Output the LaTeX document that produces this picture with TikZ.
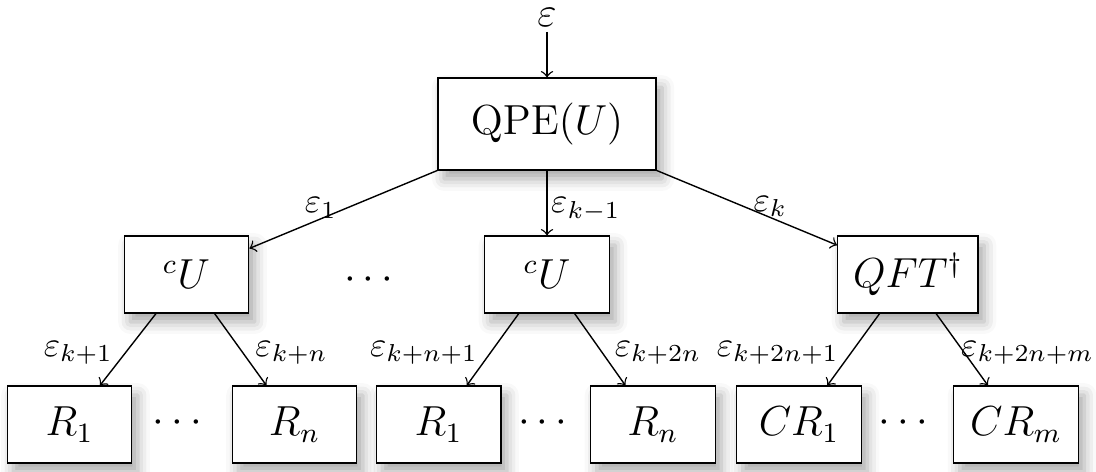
\documentclass[tikz,border=0pt]{standalone}
\usepackage{amsmath,amssymb}
\usetikzlibrary{shadows.blur}

\begin{document}
\begin{tikzpicture}[box/.style={draw, fill=white, font=\large, minimum width=1.25cm, minimum height=0.77cm,
    blur shadow={shadow blur radius=0.8ex, shadow xshift=0.4ex, shadow yshift=-0.6ex, shadow opacity=35}},
  dots/.style={font=\large, inner sep=0pt}]
  \useasboundingbox (0,0) rectangle (11.004,4.729);
  % top: input and QPE block
  \node[font=\large, inner sep=0pt] (e) at (5.492,4.55) {$\varepsilon$};
  \node[box, minimum width=2.19cm, minimum height=0.92cm] (qpe) at (5.492,3.484) {$\mathrm{QPE}(U)$};
  % middle row
  \node[box] (u1) at (1.872,1.973) {$^cU$};
  \node[box] (u2) at (5.492,1.973) {$^cU$};
  \node[box, minimum width=1.41cm] (qft) at (9.116,1.973) {$QFT^\dagger$};
  \node[dots] (d0) at (3.735,1.92) {$\cdots$};
  % bottom row
  \node[box] (r1) at (0.698,0.467) {$R_1$};  \node[box] (r2) at (2.957,0.467) {$R_n$};
  \node[box] (r3) at (4.403,0.467) {$R_1$};  \node[box] (r4) at (6.556,0.467) {$R_n$};
  \node[box] (c1) at (8.022,0.467) {$CR_1$}; \node[box] (c2) at (10.201,0.467) {$CR_m$};
  \node[dots] (d1) at (1.817,0.482) {$\cdots$};
  \node[dots] (d2) at (5.482,0.482) {$\cdots$};
  \node[dots] (d3) at (9.106,0.482) {$\cdots$};
  % arrows from QPE
  \draw[->, shorten <=1.2pt] (e) -- (qpe);
  \draw[->] (qpe.south west) -- node[pos=0.62, above, inner sep=0pt] {$\varepsilon_1$} (u1);
  \draw[->] (qpe) -- node[pos=0.6, right, inner sep=1pt] {$\varepsilon_{k-1}$} (u2);
  \draw[->] (qpe.south east) -- node[pos=0.63, above, inner sep=0pt] {$\varepsilon_k$} (qft);
  % arrows to the leaves
  \draw[->] (u1) -- node[pos=0.55, left] {$\varepsilon_{k+1}$} (r1);
  \draw[->] (u1) -- node[pos=0.55, right] {$\varepsilon_{k+n}$} (r2);
  \draw[->] (u2) -- node[pos=0.55, left] {$\varepsilon_{k+n+1}$} (r3);
  \draw[->] (u2) -- node[pos=0.55, right] {$\varepsilon_{k+2n}$} (r4);
  \draw[->] (qft) -- node[pos=0.55, left] {$\varepsilon_{k+2n+1}$} (c1);
  \draw[->] (qft) -- node[pos=0.55, right, xshift=-4.5pt] {$\varepsilon_{k+2n+m}$} (c2);
\end{tikzpicture}
\end{document}
